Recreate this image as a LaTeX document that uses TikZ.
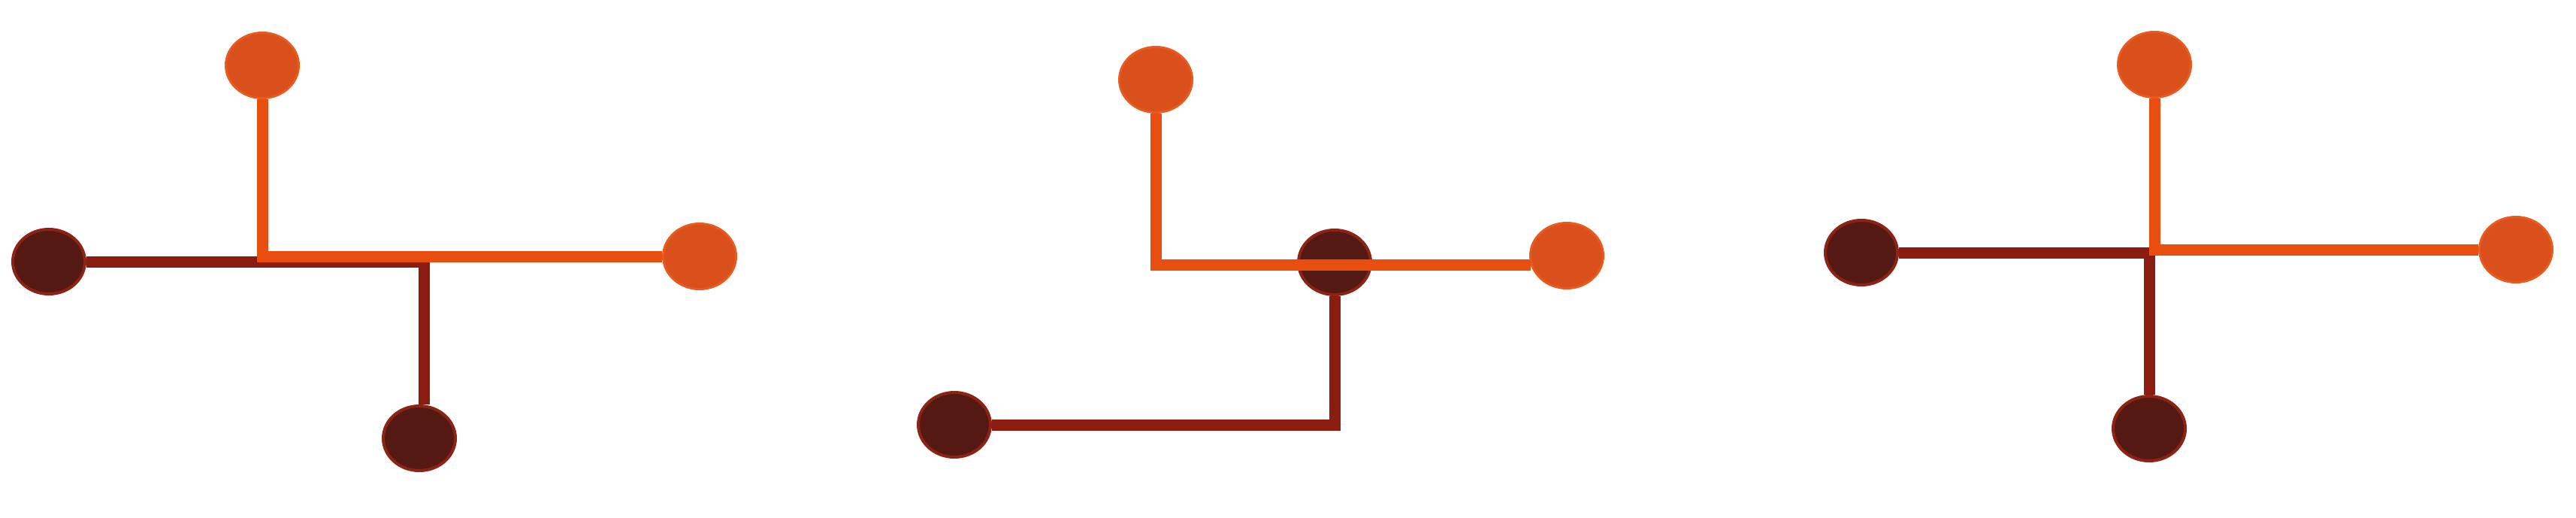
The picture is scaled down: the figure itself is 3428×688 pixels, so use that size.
\documentclass[tikz,border=0pt]{standalone}
\usetikzlibrary{shapes.geometric}
\definecolor{orline}{HTML}{E84E10}
\definecolor{orfill}{HTML}{D9501C}
\definecolor{orrim}{HTML}{E85A1E}
\definecolor{dkfill}{HTML}{531912}
\definecolor{dkrim}{HTML}{8C2314}
\definecolor{dkline}{HTML}{8A1C10}
\tikzset{
  orangedot/.style={ellipse, fill=orfill, draw=orrim, line width=3pt, minimum width=97pt, minimum height=87pt, inner sep=0pt},
  darkdot/.style={ellipse, fill=dkfill, draw=dkrim, line width=4pt, minimum width=96pt, minimum height=86pt, inner sep=0pt},
  orangewire/.style={draw=orline, line width=15pt, line join=miter},
  darkwire/.style={draw=dkline, line width=15pt, line join=miter}
}
\begin{document}
\begin{tikzpicture}[x=1pt, y=-1pt]
\useasboundingbox (0,0) rectangle (3428,688);
% ---------- diagram 1 ----------
\node[darkdot] (a1l) at (65,348) {};
\node[darkdot] (a1b) at (558,583) {};
\draw[darkwire] (a1l) -| (a1b.82);
\node[orangedot] (a1t) at (349,87) {};
\node[orangedot] (a1r) at (931,341) {};
\draw[orangewire] (a1t) |- (a1r);
% ---------- diagram 2 ----------
\node[darkdot] (b2l) at (1270,565) {};
\node[darkdot] (b2m) at (1776,349) {};
\draw[darkwire] (b2m) |- (b2l);
\node[orangedot] (b2t) at (1538,106) {};
\node[orangedot] (b2r) at (2085,340) {};
\draw[orangewire] (b2t) |- (b2r.195);
% ---------- diagram 3 ----------
\node[darkdot] (c3l) at (2477,336) {};
\node[darkdot] (c3b) at (2860,570) {};
\draw[darkwire] (c3l) -| (c3b);
\node[orangedot] (c3t) at (2867,86) {};
\node[orangedot] (c3r) at (3348,332) {};
\draw[orangewire] (c3t) |- (c3r);
\end{tikzpicture}
\end{document}
